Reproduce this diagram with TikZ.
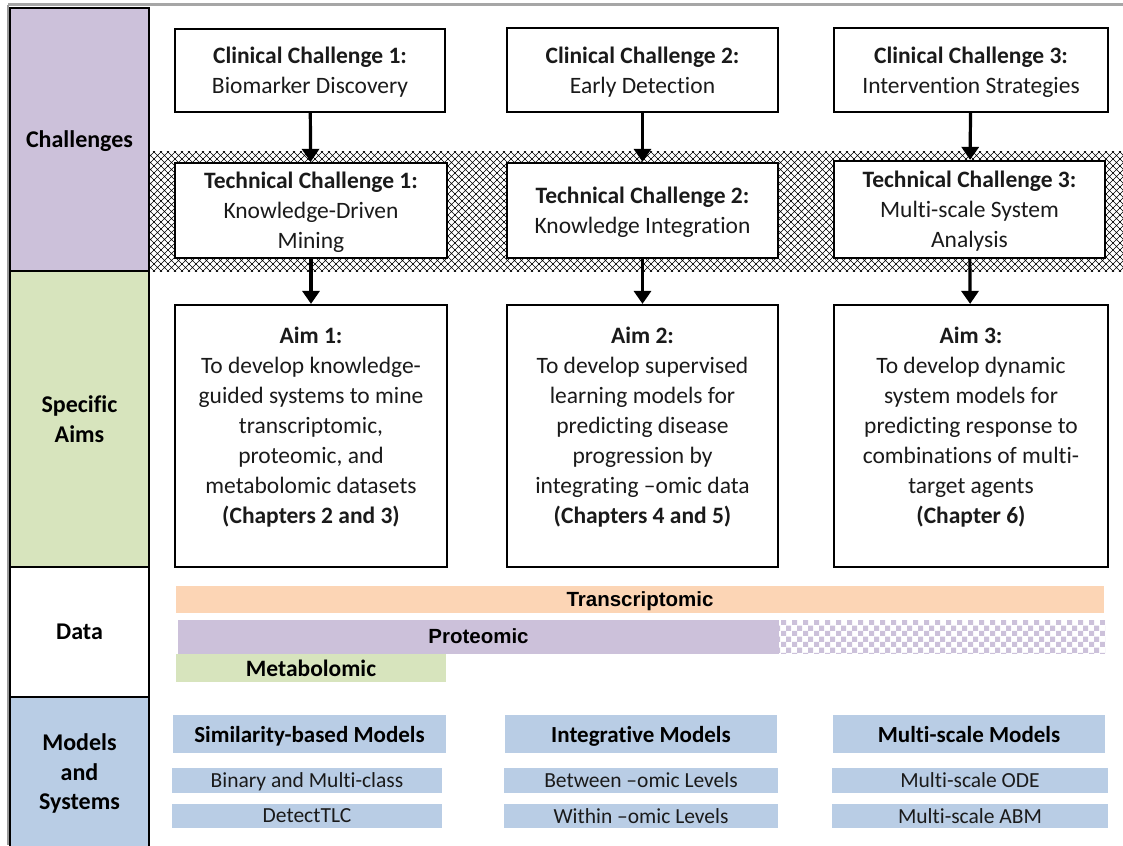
\documentclass[tikz,border=0pt]{standalone}
\usepackage{fontspec}
\setmainfont{Carlito}[Ligatures=NoCommon]
\newfontfamily\arialfont{Liberation Sans}
\usetikzlibrary{arrows.meta,patterns}
\definecolor{purpleC}{HTML}{CCC1DA}
\definecolor{greenC}{HTML}{D7E4BD}
\definecolor{blueC}{HTML}{B9CDE5}
\definecolor{orangeC}{HTML}{FCD5B5}
\definecolor{txtC}{HTML}{1A1A1A}
\pgfdeclarepatternformonly{diaghatch}{\pgfqpoint{-1pt}{-1pt}}{\pgfqpoint{8pt}{8pt}}{\pgfqpoint{7pt}{7pt}}{%
  \pgfsetlinewidth{0.55pt}%
  \pgfpathmoveto{\pgfqpoint{-0.5pt}{-0.5pt}}\pgfpathlineto{\pgfqpoint{7.5pt}{7.5pt}}%
  \pgfpathmoveto{\pgfqpoint{-0.5pt}{7.5pt}}\pgfpathlineto{\pgfqpoint{7.5pt}{-0.5pt}}%
  \pgfusepath{stroke}}
\pgfdeclarepatternformonly{mychecker}{\pgfpointorigin}{\pgfqpoint{11pt}{11pt}}{\pgfqpoint{11pt}{11pt}}{%
  \pgfpathrectangle{\pgfpointorigin}{\pgfqpoint{5.5pt}{5.5pt}}%
  \pgfpathrectangle{\pgfqpoint{5.5pt}{5.5pt}}{\pgfqpoint{5.5pt}{5.5pt}}%
  \pgfusepath{fill}}
\newcommand{\bxfont}{\fontsize{23.5}{30}\selectfont\color{txtC}}
\newcommand{\lfont}{\fontsize{24}{29.5}\selectfont\bfseries}
\newcommand{\hfont}{\fontsize{23}{28}\selectfont\bfseries}
\newcommand{\sfont}{\fontsize{21.5}{26}\selectfont\color{txtC}}
\newcommand{\dfont}{\fontsize{20.5}{24}\selectfont\arialfont\bfseries}
\begin{document}
\begin{tikzpicture}[x=1pt,y=-1pt,
  box/.style={draw=black, line width=2.2pt, fill=white, inner sep=0pt, align=center, font=\bxfont, text depth=0pt},
  lbox/.style={draw=black, line width=2.5pt, minimum width=139pt, inner sep=0pt, align=center, font=\lfont, text depth=0pt},
  arr/.style={line width=3.2pt, -{Triangle[width=17pt,length=13pt]}},
  bar/.style={inner sep=0pt, minimum height=27pt, text depth=0pt},
  mhead/.style={fill=blueC, inner sep=0pt, minimum height=38pt, font=\hfont, text depth=0pt},
  msub/.style={fill=blueC, inner sep=0pt, font=\sfont, text depth=0pt}]
\useasboundingbox (0,0) rectangle (1123,845);
\fill[white] (0,0) rectangle (1123,845);
% frame lines
\draw[black!35, line width=3pt] (8,5) -- (1123,5);
\draw[black!40, line width=2pt] (8,5) -- (8,845);
% hatched band
\node[minimum width=973pt, minimum height=119pt, inner sep=0pt, pattern=diaghatch] (band) at (636.5,211.5) {};
% left column
\node[lbox, fill=purpleC, minimum height=263pt] (lchal) at (79.5,139.5) {Challenges};
\node[lbox, fill=greenC, minimum height=296pt] (laims) at (79.5,419) {Specific\\Aims};
\node[lbox, fill=white, minimum height=130pt] (ldata) at (79.5,632) {Data};
\node[lbox, fill=blueC, minimum height=150pt] (lmod) at (79.5,772) {Models\\and\\Systems};
% clinical challenges
\node[box, minimum width=270pt, minimum height=83pt] (cc1) at (310,70.5) {\textbf{Clinical Challenge 1:}\\Biomarker Discovery};
\node[box, minimum width=271pt, minimum height=84pt] (cc2) at (642.5,70) {\textbf{Clinical Challenge 2:}\\Early Detection};
\node[box, minimum width=274pt, minimum height=84pt] (cc3) at (971,70) {\textbf{Clinical Challenge 3:}\\Intervention Strategies};
% technical challenges
\node[box, minimum width=272pt, minimum height=95pt] (tc1) at (311,210.5) {\textbf{Technical Challenge 1:}\\Knowledge-Driven\\Mining};
\node[box, minimum width=271pt, minimum height=95pt] (tc2) at (642.5,210.5) {\textbf{Technical Challenge 2:}\\Knowledge Integration};
\node[box, minimum width=271pt, minimum height=97pt] (tc3) at (969.5,209.5) {\textbf{Technical Challenge 3:}\\Multi-scale System\\Analysis};
% aims
\node[box, minimum width=272pt, minimum height=262pt] (aim1) at (311,436) {};
\node[box, minimum width=271pt, minimum height=262pt] (aim2) at (642.5,436) {};
\node[box, minimum width=274pt, minimum height=262pt] (aim3) at (971,436) {};
\node[anchor=north, inner sep=0pt, align=center, font=\bxfont] (aim1t) at ([yshift=-23pt]aim1.north) {\textbf{Aim 1:}\\To develop knowledge-\\guided systems to mine\\transcriptomic,\\proteomic, and\\metabolomic datasets\\\textbf{(Chapters 2 and 3)}};
\node[anchor=north, inner sep=0pt, align=center, font=\bxfont] (aim2t) at ([yshift=-23pt]aim2.north) {\textbf{Aim 2:}\\To develop supervised\\learning models for\\predicting disease\\progression by\\integrating --omic data\\\textbf{(Chapters 4 and 5)}};
\node[anchor=north, inner sep=0pt, align=center, font=\bxfont] (aim3t) at ([yshift=-23pt]aim3.north) {\textbf{Aim 3:}\\To develop dynamic\\system models for\\predicting response to\\combinations of multi-\\target agents\\\textbf{(Chapter 6)}};
% arrows
\draw[arr] (cc1) -- (tc1);
\draw[arr] (cc2) -- (tc2);
\draw[arr] (cc3) -- (tc3);
\draw[arr] (tc1) -- (aim1);
\draw[arr] (tc2) -- (aim2);
\draw[arr] (tc3) -- (aim3);
% data bars
\node[bar, fill=orangeC, minimum width=928pt, font=\dfont] (trans) at (640,599.5) {Transcriptomic};
\node[bar, fill=purpleC, minimum width=601pt, minimum height=34pt, font=\dfont] (prot) at (478.5,636.5) {Proteomic};
\node[bar, pattern=mychecker, pattern color=purpleC, minimum width=326pt, minimum height=33pt] (protx) at (942,636.5) {};
\node[bar, fill=greenC, minimum width=270pt, minimum height=28pt, font={\fontsize{23.5}{28}\selectfont\bfseries}] (metab) at (311,668) {Metabolomic};
% models
\node[mhead, minimum width=273pt] (sim) at (309.5,734) {Similarity-based Models};
\node[mhead, minimum width=272pt] (integ) at (641,734) {Integrative Models};
\node[mhead, minimum width=272pt] (msm) at (969,734) {Multi-scale Models};
\node[msub, minimum width=270pt, minimum height=25pt] (bin) at (307,780.5) {Binary and Multi-class};
\node[msub, minimum width=270pt, minimum height=24pt] (det) at (307,816) {DetectTLC};
\node[msub, minimum width=274pt, minimum height=25pt] (betw) at (641,780.5) {Between --omic Levels};
\node[msub, minimum width=274pt, minimum height=24pt] (with) at (641,816) {Within --omic Levels};
\node[msub, minimum width=276pt, minimum height=25pt] (ode) at (970,780.5) {Multi-scale ODE};
\node[msub, minimum width=276pt, minimum height=24pt] (abm) at (970,816) {Multi-scale ABM};
\end{tikzpicture}
\end{document}
